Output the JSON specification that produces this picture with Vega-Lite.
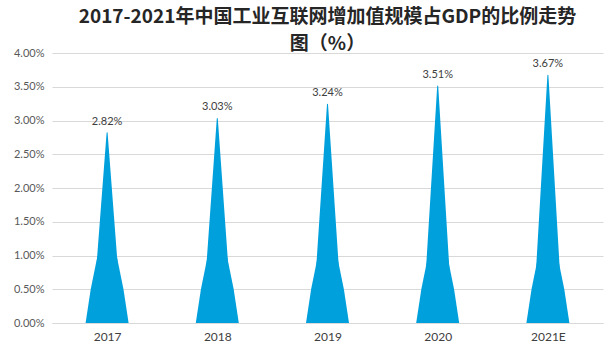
{
  "$schema": "https://vega.github.io/schema/vega-lite/v6.json",
  "width": 606,
  "height": 355,
  "autosize": {"type": "fit", "contains": "padding"},
  "padding": {"left": 13, "right": 3, "top": 8, "bottom": 13},
  "background": "#ffffff",
  "title": {
    "text": ["2017-2021年中国工业互联网增加值规模占GDP的比例走势", "图（%）"],
    "font": "Noto Sans CJK SC",
    "fontSize": 19,
    "fontWeight": "bold",
    "color": "#262626",
    "anchor": "middle",
    "lineHeight": 27,
    "offset": -7
  },
  "data": {
    "values": [
      {"year": "2017", "pct": 0.0282},
      {"year": "2018", "pct": 0.0303},
      {"year": "2019", "pct": 0.0324},
      {"year": "2020", "pct": 0.0351},
      {"year": "2021E", "pct": 0.0367}
    ]
  },
  "encoding": {
    "x": {
      "field": "year",
      "type": "ordinal",
      "scale": {"type": "point", "padding": 0.5},
      "axis": {
        "title": null,
        "labelAngle": 0,
        "labelFont": "Lato",
        "labelFontSize": 12,
        "labelColor": "#404040",
        "labelPadding": 8,
        "ticks": false,
        "domain": true,
        "domainColor": "#D9D9D9",
        "grid": false
      }
    }
  },
  "layer": [
    {
      "transform": [
        {"calculate": "0", "as": "base"},
        {"fold": ["base", "pct"], "as": ["key", "v"]}
      ],
      "mark": {"type": "trail", "color": "#00A0DC", "clip": true},
      "encoding": {
        "y": {
          "field": "v",
          "type": "quantitative",
          "title": null,
          "scale": {"domain": [0, 0.04]}
        },
        "detail": {"field": "year"},
        "size": {"condition": {"test": "datum.key === 'pct'", "value": 0}, "value": 30}
      }
    },
    {
      "mark": {
        "type": "point",
        "filled": true,
        "clip": true,
        "shape": "M -1 0 L -0.76 -1.58 L -0.45 -3.1 L 0.45 -3.1 L 0.76 -1.58 L 1 0 Z",
        "size": 1849,
        "color": "#00A0DC",
        "opacity": 1,
        "strokeWidth": 0
      },
      "encoding": {
        "y": {"datum": 0, "type": "quantitative", "title": null}
      }
    },
    {
      "mark": {
        "type": "text",
        "baseline": "bottom",
        "dy": -6,
        "font": "Lato",
        "fontSize": 11,
        "color": "#404040"
      },
      "encoding": {
        "y": {"field": "pct", "type": "quantitative", "title": null},
        "text": {"field": "pct", "type": "quantitative", "format": ".2%"}
      }
    }
  ],
  "config": {
    "view": {"stroke": null},
    "axisY": {
      "title": null,
      "format": ".2%",
      "values": [0, 0.005, 0.01, 0.015, 0.02, 0.025, 0.03, 0.035, 0.04],
      "labelOverlap": false,
      "labelFont": "Lato",
      "labelFontSize": 11,
      "labelColor": "#595959",
      "labelPadding": 8,
      "ticks": false,
      "domain": false,
      "grid": true,
      "gridColor": "#D9D9D9"
    }
  }
}
